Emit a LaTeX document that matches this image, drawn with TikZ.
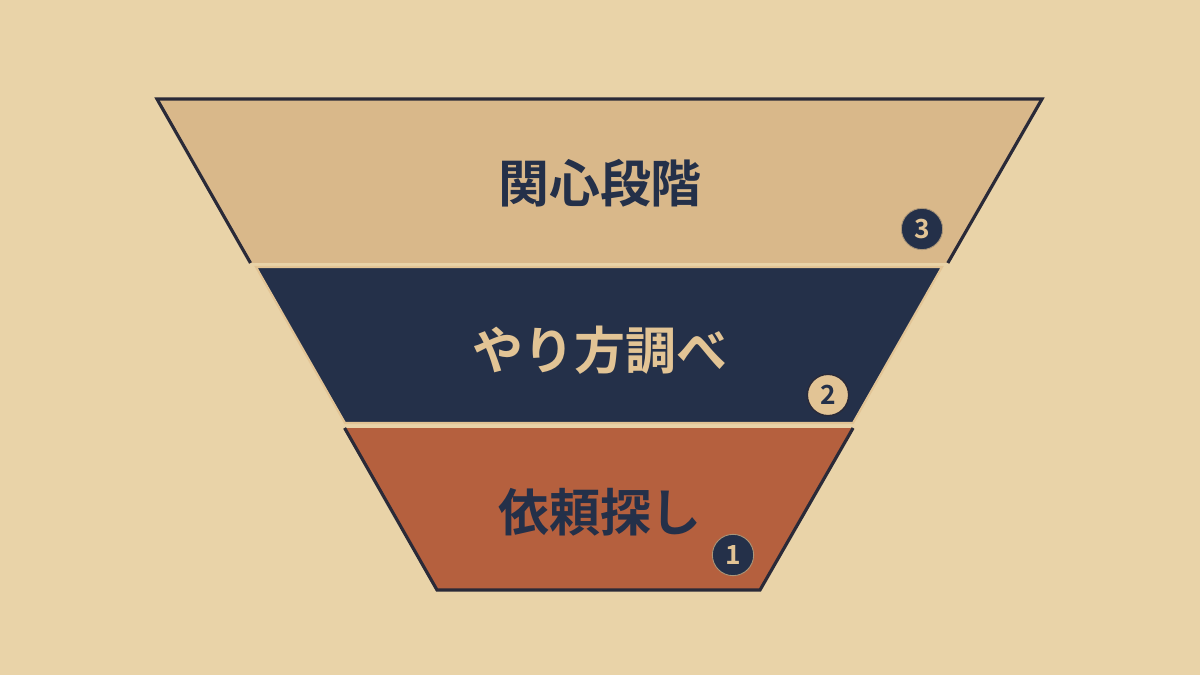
\documentclass[tikz,border=0pt]{standalone}
\usepackage{fontspec}
\newfontfamily\jpb{Noto Sans CJK JP Bold}
\newfontfamily\jp{Noto Sans CJK JP}
\definecolor{bg}{HTML}{E9D3A8}
\definecolor{tanband}{HTML}{D9B88A}
\definecolor{navy}{HTML}{243049}
\definecolor{rust}{HTML}{B5603E}
\definecolor{ink}{HTML}{2A2A38}
\definecolor{lighttan}{HTML}{E2C495}
\begin{document}
\begin{tikzpicture}[x=0.02cm,y=-0.02cm,
  outline/.style={draw=ink,line width=1.8pt,line join=miter},
  label/.style={font=\jpb\fontsize{29pt}{32pt}\selectfont},
  badge/.style={circle,minimum size=23.5pt,inner sep=0pt,font=\jpb\fontsize{15pt}{16pt}\selectfont}]
\fill[bg] (0,0) rectangle (1200,675);
\useasboundingbox (0,0) rectangle (1200,675);
% top band
\coordinate (tl) at (157,99);
\coordinate (tr) at (1042,99);
\coordinate (ml) at (250.5,263);
\coordinate (mr) at (947.8,263);
\fill[tanband] (tl) -- (tr) -- (mr) -- (ml) -- cycle;
\draw[outline] (ml) -- (tl) -- (tr) -- (mr);
% middle band
\coordinate (m1) at (256,267);
\coordinate (m2) at (942,267);
\coordinate (m3) at (853,423);
\coordinate (m4) at (345,423);
\fill[navy, draw=lighttan, line width=1.2pt] (m1) -- (m2) -- (m3) -- (m4) -- cycle;
% bottom band
\coordinate (nl) at (344.6,428);
\coordinate (nr) at (853.1,428);
\coordinate (bl) at (437,590);
\coordinate (br) at (760,590);
\fill[rust] (nl) -- (nr) -- (br) -- (bl) -- cycle;
\draw[outline] (nl) -- (bl) -- (br) -- (nr);
% labels
\node[label,text=navy] (t3) at (600,183) {関心段階};
\node[label,text=lighttan] (t2) at (600,350) {やり方調べ};
\node[label,text=navy] (t1) at (600,512) {依頼探し};
% badges
\node[badge,fill=navy,draw=lighttan!70!ink,line width=0.5pt,text=lighttan] (b3) at (922,229) {3};
\node[badge,fill=lighttan,draw=ink,line width=0.8pt,text=navy] (b2) at (828,395) {2};
\node[badge,fill=navy,draw=lighttan!70!ink,line width=0.5pt,text=lighttan] (b1) at (733,555) {1};
\end{tikzpicture}
\end{document}
